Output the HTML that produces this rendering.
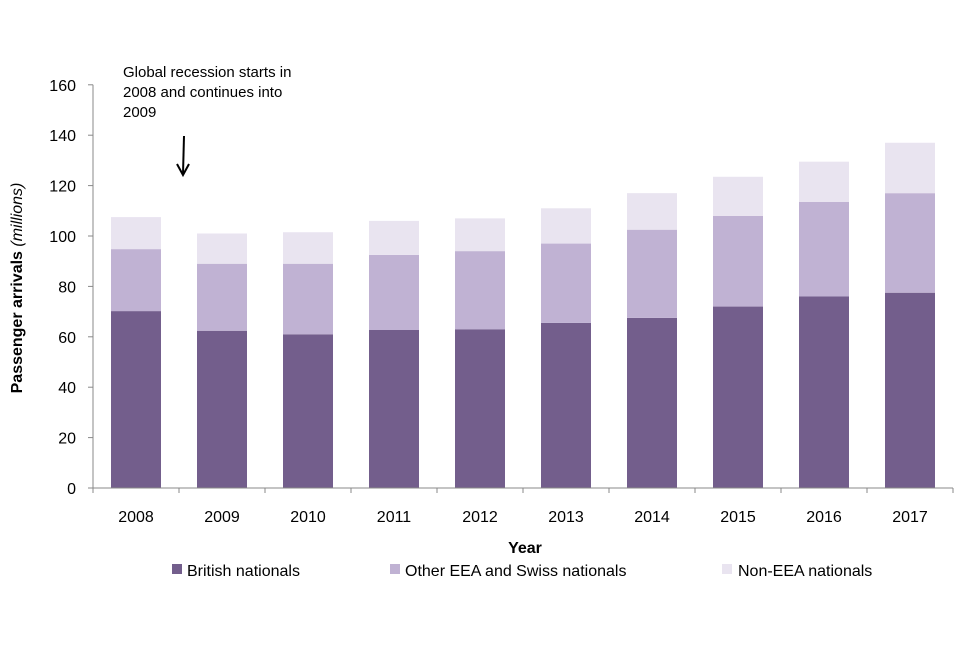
<!DOCTYPE html>
<html><head><meta charset="utf-8"><style>
body{margin:0;background:#fff;font-family:"Liberation Sans",sans-serif}
svg text{font-family:"Liberation Sans",sans-serif;fill:#000}
</style></head><body>
<svg width="960" height="640" id="c"></svg>
<script>
const categories=["2008","2009","2010","2011","2012","2013","2014","2015","2016","2017"];
const british=[70.2,62.4,61,62.7,63,65.5,67.5,72,76,77.5];
const eea=[24.6,26.6,28,29.8,31,31.5,35,36,37.5,39.5];
const nonEea=[12.7,12,12.5,13.5,13,14,14.5,15.5,16,20];
const yTicks=[0,20,40,60,80,100,120,140,160];
const NS="http://www.w3.org/2000/svg";
const svg=document.getElementById('c');
const x0=93,step=86,y0=488,ppu=2.52,bw=50;
function y(v){return y0-v*ppu;}
function cx(i){return x0+step*i+step/2;}
function mk(t,a,txt){const e=document.createElementNS(NS,t);for(const k in a)e.setAttribute(k,a[k]);if(txt!=null)e.textContent=txt;svg.appendChild(e);return e;}
const series=[[british,"#735e8c","british"],[eea,"#c0b2d3","eea"],[nonEea,"#e9e4f0","non-eea"]];
categories.forEach((c,i)=>{let base=0;series.forEach(s=>{const v=s[0][i];const r=mk('rect',{x:cx(i)-bw/2,y:y(base+v),width:bw,height:v*ppu,fill:s[1]});

base+=v;});
const t=mk('text',{x:cx(i),y:522,'text-anchor':'middle','font-size':16},c);


const tk=mk('line',{x1:x0+step*i,x2:x0+step*i,y1:y0,y2:y0+5,stroke:'#888'});

});
const tk2=mk('line',{x1:x0+step*10,x2:x0+step*10,y1:y0,y2:y0+5,stroke:'#888'});


yTicks.forEach(v=>{const l=mk('line',{x1:x0-5,x2:x0,y1:y(v),y2:y(v),stroke:'#888'});


const t=mk('text',{x:76,y:y(v)+6,'text-anchor':'end','font-size':16},v);

});
const ax=mk('line',{x1:x0,x2:x0,y1:y(160),y2:y0,stroke:'#888'});


const ax2=mk('line',{x1:x0,x2:x0+step*10,y1:y0,y2:y0,stroke:'#888'});


</script>
<svg style="position:absolute;left:0;top:0" width="960" height="640">
<text x="0" y="0" transform="translate(22,288) rotate(-90)" text-anchor="middle" font-size="16" font-weight="bold">Passenger arrivals <tspan font-style="italic" font-weight="normal">(millions)</tspan></text>
<text x="525" y="553" text-anchor="middle" font-size="16" font-weight="bold">Year</text>
<g font-size="15">
<text x="123" y="77">Global recession starts in</text>
<text x="123" y="97">2008 and continues into</text>
<text x="123" y="117">2009</text></g>
<g stroke="#000" stroke-width="2" fill="none">
<line x1="184" y1="136" x2="183" y2="174"/><polyline points="177,164 183,175 189,164"/></g>
<g font-size="16">
<rect x="172" y="564" width="10" height="10" fill="#735e8c"/>
<text x="187" y="576">British nationals</text>
<rect x="390" y="564" width="10" height="10" fill="#c0b2d3"/>
<text x="405" y="576">Other EEA and Swiss nationals</text>
<rect x="722" y="564" width="10" height="10" fill="#e9e4f0"/>
<text x="738" y="576">Non-EEA nationals</text>
</g></svg>
</body></html>
